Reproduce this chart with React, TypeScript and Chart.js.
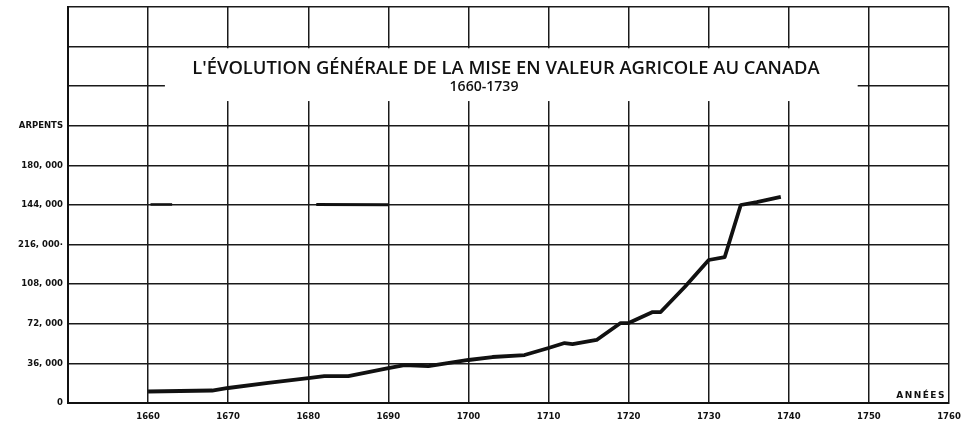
import React, { useEffect, useRef } from "react";
import { Chart, registerables } from "chart.js";

Chart.register(...registerables);

// ---- data ----
const years = [1660, 1668, 1670, 1675, 1680, 1682, 1685, 1690, 1692, 1695, 1700, 1703, 1707, 1710, 1712, 1713, 1716, 1719, 1720, 1723, 1724, 1727, 1730, 1732, 1734, 1736, 1739];
const arpents = [10450, 11360, 13640, 18200, 22700, 24500, 24500, 31800, 34500, 33600, 39100, 41800, 43600, 50000, 54500, 53600, 57300, 72700, 72700, 82700, 82700, 105500, 130000, 132700, 180000, 182700, 187300];

// stray heavy strokes printed on the 144,000 line of the original
const markAYears = [1660.3, 1663];
const markAValues = [180500, 180500];
const markBYears = [1681, 1690];
const markBValues = [180500, 180300];

const yTickLabels = ["0", "36, 000", "72, 000", "108, 000", "216, 000·", "144, 000", "180, 000", "ARPENTS", "", "", ""];
const yStep = 36000;
const yMax = 360000;
const xMin = 1650;
const xMax = 1760;
const xStep = 10;

const title = "L'ÉVOLUTION GÉNÉRALE DE LA MISE EN VALEUR AGRICOLE AU CANADA";
const subtitle = "1660-1739";
const xAxisName = "ANNÉES";

const toPoints = (xs: number[], ys: number[]) => xs.map((x, i) => ({ x, y: ys[i] }));

const overlayPlugin = {
  id: "overlay",
  beforeDatasetsDraw(chart: any) {
    const { ctx, scales } = chart;
    const x = scales.x;
    const y = scales.y;
    ctx.save();
    // white title box cutting the grid
    const bx0 = x.getPixelForValue(1662.1);
    const bx1 = x.getPixelForValue(1748.6);
    const by0 = y.getPixelForValue(322500);
    const by1 = y.getPixelForValue(274500);
    ctx.fillStyle = "#ffffff";
    ctx.fillRect(bx0, by0, bx1 - bx0, by1 - by0);

    ctx.fillStyle = "#111111";
    ctx.textBaseline = "middle";
    ctx.textAlign = "center";
    // main title scaled to the measured width
    ctx.font = '600 15px "Open Sans"';
    const w = ctx.measureText(title).width;
    const size = 15 * 628 / w;
    ctx.font = `600 ${size.toFixed(2)}px "Open Sans"`;
    ctx.fillText(title, 506, 69);
    ctx.font = '600 14px "Open Sans"';
    const ws = ctx.measureText(subtitle).width;
    ctx.font = `600 ${(14 * 69 / ws).toFixed(2)}px "Open Sans"`;
    ctx.fillText(subtitle, 484, 87);

    // axis name at bottom right
    ctx.font = 'bold 9px "DejaVu Sans"';
    ctx.textAlign = "right";
    (ctx as any).letterSpacing = "1.5px";
    ctx.fillText(xAxisName, 946, 396);
    ctx.restore();
  },
};

export default function App() {
  const ref = useRef<HTMLCanvasElement | null>(null);

  useEffect(() => {
    if (!ref.current) return;
    const chart = new Chart(ref.current, {
      type: "line",
      data: {
        datasets: [
          {
            data: toPoints(years, arpents),
            borderColor: "#111111",
            borderWidth: 3.8,
            pointRadius: 0,
            tension: 0,
            borderJoinStyle: "round",
          },
          {
            data: toPoints(markAYears, markAValues),
            borderColor: "#111111",
            borderWidth: 2.5,
            pointRadius: 0,
          },
          {
            data: toPoints(markBYears, markBValues),
            borderColor: "#111111",
            borderWidth: 3,
            pointRadius: 0,
          },
        ],
      },
      plugins: [overlayPlugin],
      options: {
        animation: false,
        responsive: false,
        maintainAspectRatio: false,
        layout: { padding: { left: 6, right: 16, top: 7, bottom: 0 } },
        plugins: {
          legend: { display: false },
          tooltip: { enabled: false },
          title: { display: false },
        },
        scales: {
          x: {
            type: "linear",
            min: xMin,
            max: xMax,
            ticks: {
              stepSize: xStep,
              color: "#111111",
              font: { family: "DejaVu Sans", size: 8.5, weight: "bold" },
              padding: 9,
              maxRotation: 0,
              autoSkip: false,
              callback: (v: any) => (Number(v) === xMin ? "" : String(v)),
            },
            grid: { color: "#1a1a1a", lineWidth: 1.5, drawTicks: false },
            border: { color: "#111111", width: 2 },
            afterFit: (s: any) => {
              s.height = 22;
              s.paddingRight = 0;
              s.paddingLeft = 0;
            },
          },
          y: {
            type: "linear",
            min: 0,
            max: yMax,
            ticks: {
              stepSize: yStep,
              color: "#111111",
              font: { family: "DejaVu Sans", size: 8.5, weight: "bold" },
              padding: 5,
              autoSkip: false,
              callback: (v: any) => yTickLabels[Math.round(Number(v) / yStep)] ?? "",
            },
            grid: { color: "#1a1a1a", lineWidth: 1.5, drawTicks: false },
            border: { color: "#111111", width: 2 },
            afterFit: (s: any) => {
              s.width = 62;
              s.paddingTop = 0;
              s.paddingBottom = 0;
            },
          },
        },
      },
    } as any);
    return () => chart.destroy();
  }, []);

  return (
    <div style={{ position: "fixed", left: 0, top: 0, width: 965, height: 425, background: "#ffffff" }}>
      <canvas ref={ref} width={965} height={425} style={{ display: "block", width: 965, height: 425 }} />
    </div>
  );
}
